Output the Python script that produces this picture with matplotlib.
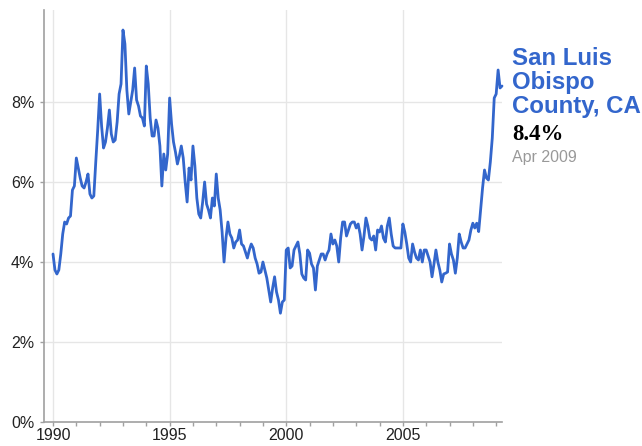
import numpy as np
import matplotlib
matplotlib.use("Agg")
import matplotlib.pyplot as plt

plt.rcParams['font.family'] = ['Liberation Sans', 'DejaVu Sans']

# Monthly unemployment rate (%), San Luis Obispo County, CA, Jan 1990 - Apr 2009
start_year = 1990
rate_1990 = [4.2, 3.8, 3.7, 3.8, 4.2, 4.7, 5.0, 4.95, 5.1, 5.15, 5.8, 5.9]
rate_1991 = [6.6, 6.35, 6.1, 5.9, 5.85, 6.0, 6.2, 5.7, 5.6, 5.65, 6.5, 7.3]
rate_1992 = [8.2, 7.4, 6.85, 7.0, 7.35, 7.8, 7.2, 7.0, 7.05, 7.5, 8.2, 8.45]
rate_1993 = [9.8, 9.45, 8.3, 7.7, 8.0, 8.3, 8.85, 8.05, 7.9, 7.65, 7.6, 7.4]
rate_1994 = [8.9, 8.45, 7.6, 7.15, 7.15, 7.55, 7.35, 6.9, 5.9, 6.7, 6.3, 6.7]
rate_1995 = [8.1, 7.45, 7.0, 6.75, 6.45, 6.65, 6.9, 6.6, 6.0, 5.5, 6.35, 6.05]
rate_1996 = [6.9, 6.4, 5.6, 5.2, 5.1, 5.5, 6.0, 5.45, 5.3, 5.1, 5.6, 5.4]
rate_1997 = [6.2, 5.6, 5.3, 4.75, 4.0, 4.6, 5.0, 4.7, 4.6, 4.35, 4.5, 4.55]
rate_1998 = [4.8, 4.45, 4.4, 4.25, 4.1, 4.3, 4.45, 4.35, 4.1, 3.95, 3.72, 3.75]
rate_1999 = [4.0, 3.8, 3.6, 3.3, 3.0, 3.35, 3.63, 3.25, 3.05, 2.72, 3.0, 3.05]
rate_2000 = [4.3, 4.35, 3.85, 3.9, 4.3, 4.4, 4.5, 4.2, 3.7, 3.6, 3.55, 4.3]
rate_2001 = [4.22, 3.95, 3.85, 3.3, 3.9, 4.05, 4.2, 4.2, 4.05, 4.2, 4.3, 4.7]
rate_2002 = [4.45, 4.55, 4.4, 4.0, 4.6, 5.0, 5.0, 4.65, 4.8, 4.95, 5.0, 5.0]
rate_2003 = [4.85, 4.95, 4.7, 4.3, 4.65, 5.1, 4.9, 4.6, 4.55, 4.65, 4.3, 4.8]
rate_2004 = [4.75, 4.9, 4.6, 4.5, 4.9, 5.1, 4.7, 4.4, 4.35, 4.35, 4.35, 4.35]
rate_2005 = [4.95, 4.75, 4.45, 4.1, 4.0, 4.45, 4.25, 4.1, 4.05, 4.3, 4.0, 4.3]
rate_2006 = [4.3, 4.15, 4.0, 3.63, 3.95, 4.3, 4.0, 3.8, 3.5, 3.7, 3.72, 3.75]
rate_2007 = [4.45, 4.2, 4.05, 3.72, 4.1, 4.7, 4.5, 4.35, 4.35, 4.45, 4.55, 4.8]
rate_2008 = [4.97, 4.85, 4.97, 4.76, 5.3, 5.85, 6.3, 6.1, 6.05, 6.5, 7.1, 8.1]
rate_2009 = [8.2, 8.8, 8.35, 8.4]

values = (rate_1990 + rate_1991 + rate_1992 + rate_1993 + rate_1994 + rate_1995 +
          rate_1996 + rate_1997 + rate_1998 + rate_1999 + rate_2000 + rate_2001 +
          rate_2002 + rate_2003 + rate_2004 + rate_2005 + rate_2006 + rate_2007 +
          rate_2008 + rate_2009)
years = start_year + np.arange(len(values)) / 12.0

x_major = [1990, 1995, 2000, 2005]
x_labels = ['1990', '1995', '2000', '2005']
y_ticks = [0, 2, 4, 6, 8]
y_labels = ['0%', '2%', '4%', '6%', '8%']

series_name = "San Luis\nObispo\nCounty, CA"
last_value = "8.4%"
last_date = "Apr 2009"

W, H = 642, 446
fig = plt.figure(figsize=(W / 100, H / 100), dpi=100)
ax = fig.add_axes([44 / W, 24 / H, (502 - 44) / W, (436 - 24) / H])

ax.plot(years, values, color='#3366cc', lw=2.0, solid_joinstyle='round',
        solid_capstyle='round', clip_on=False, zorder=3)

ax.set_xlim(1989.614, 2009.25)
ax.set_ylim(0, 10.3)

ax.set_xticks(x_major)
ax.set_xticklabels(x_labels)
ax.set_xticks(np.arange(1990, 2010), minor=True)
ax.set_yticks(y_ticks)
ax.set_yticklabels(y_labels)

ax.grid(True, which='major', color='#e6e6e6', lw=1.0, zorder=0)
for s in ['top', 'right']:
    ax.spines[s].set_visible(False)
for s in ['left', 'bottom']:
    ax.spines[s].set_color('#a0a0a0')
    ax.spines[s].set_linewidth(1.2)

ax.tick_params(axis='x', which='both', length=3, width=1, color='#a0a0a0',
               pad=1.5, labelsize=11.5, labelcolor='#222222')
ax.tick_params(axis='y', which='both', length=3, width=1, color='#a0a0a0',
               pad=4, labelsize=11.5, labelcolor='#222222')

fig.text(512 / W, 1 - 47 / H, series_name, color='#3366cc', fontsize=17.3,
         fontweight='bold', va='top', ha='left', linespacing=1.05)
fig.text(512 / W, 1 - 124 / H, last_value, color='#000000', fontsize=16.5,
         fontweight='bold', va='top', ha='left',
         family=['Liberation Serif', 'DejaVu Serif'])
fig.text(512 / W, 1 - 150 / H, last_date, color='#999999', fontsize=11.5,
         va='top', ha='left')

fig.savefig('out.png', dpi=100)
